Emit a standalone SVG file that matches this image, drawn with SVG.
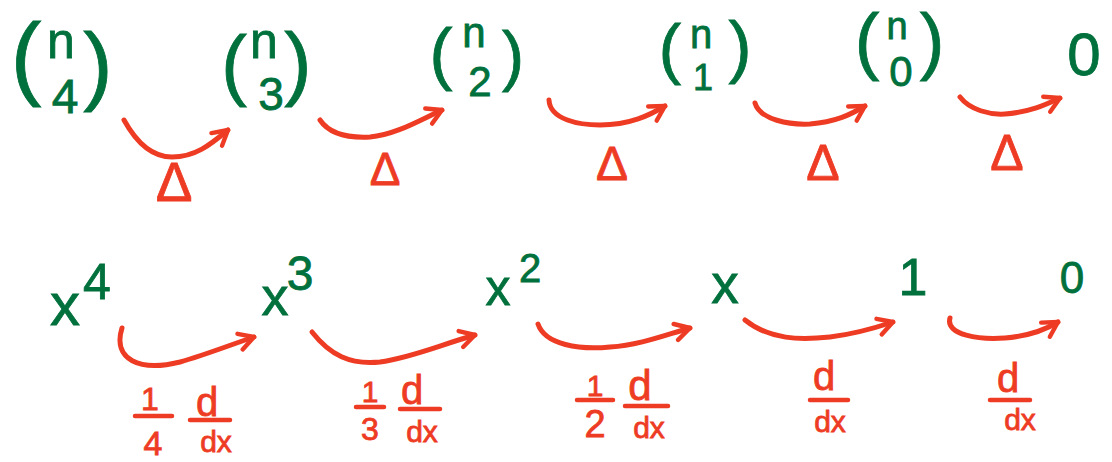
<svg xmlns="http://www.w3.org/2000/svg" width="1112" height="462" viewBox="0 0 1112 462">
<style>
.g{fill:#00703c;stroke:#00703c;stroke-width:0.8;font-family:"Liberation Sans",Arial,sans-serif;text-anchor:middle}
.r{fill:#ee3b24;stroke:#ee3b24;stroke-width:0.8;font-family:"Liberation Sans",Arial,sans-serif;text-anchor:middle}
.arc{fill:none;stroke:#ee3b24;stroke-width:5;stroke-linecap:round;marker-end:url(#head)}
.bar{stroke:#ee3b24;stroke-width:4.5;stroke-linecap:round}
</style>
<defs>
<marker id="head" viewBox="0 0 12 12" refX="10" refY="6" markerWidth="22" markerHeight="22" markerUnits="userSpaceOnUse" orient="auto">
<path d="M2,1.5 L10,6 L2,10.5" fill="none" stroke="#ee3b24" stroke-width="2.4" stroke-linecap="round" stroke-linejoin="round"/>
</marker>
</defs>
<rect width="1112" height="462" fill="#ffffff"/>

<!-- top row nodes -->
<g id="binom-n-4">
<text class="g" x="26" y="88" font-size="92">(</text>
<text class="g" x="61" y="58" font-size="50">n</text>
<text class="g" x="65" y="113" font-size="48">4</text>
<text class="g" x="98" y="94" font-size="88">)</text>
</g>
<g id="binom-n-3">
<text class="g" x="234" y="91" font-size="77">(</text>
<text class="g" x="264" y="58" font-size="50">n</text>
<text class="g" x="271" y="110" font-size="46">3</text>
<text class="g" x="298" y="90" font-size="82">)</text>
</g>
<g id="binom-n-2">
<text class="g" x="441" y="77" font-size="69">(</text>
<text class="g" x="474" y="47" font-size="42">n</text>
<text class="g" x="480" y="96" font-size="42">2</text>
<text class="g" x="513" y="78" font-size="66">)</text>
</g>
<g id="binom-n-1">
<text class="g" x="670" y="71" font-size="67">(</text>
<text class="g" x="701" y="48" font-size="40">n</text>
<text class="g" x="703" y="90" font-size="36">1</text>
<text class="g" x="740" y="70" font-size="69">)</text>
</g>
<g id="binom-n-0">
<text class="g" x="867" y="66" font-size="74">(</text>
<text class="g" x="897" y="39" font-size="38">n</text>
<text class="g" x="901" y="86" font-size="42">0</text>
<text class="g" x="932" y="66" font-size="74">)</text>
</g>
<g id="zero-top">
<text class="g" x="1084" y="75" font-size="60">0</text>
</g>

<!-- bottom row nodes -->
<g id="x4">
<text class="g" x="65" y="325" font-size="60">x</text>
<text class="g" x="97" y="299" font-size="50">4</text>
</g>
<g id="x3">
<text class="g" x="275" y="315" font-size="54">x</text>
<text class="g" x="300" y="290" font-size="48">3</text>
</g>
<g id="x2">
<text class="g" x="498" y="305" font-size="50">x</text>
<text class="g" x="530" y="282" font-size="40">2</text>
</g>
<g id="x1">
<text class="g" x="725" y="303" font-size="55">x</text>
</g>
<g id="one">
<text class="g" x="913" y="295" font-size="52">1</text>
</g>
<g id="zero-bottom">
<text class="g" x="1072" y="293" font-size="44">0</text>
</g>

<!-- connectors -->
<g id="connectors">
<g id="delta-arrows">
<path class="arc" d="M124,120 C135,140 150,157 172,157 C195,157 210,145 228,130"/>
<text class="r" x="174" y="201" font-size="55">Δ</text>
<path class="arc" d="M320,120 C330,135 350,138 370,137 C395,135 420,120 442,110"/>
<text class="r" x="385" y="185" font-size="46">Δ</text>
<path class="arc" d="M549,100 C550,120 580,125 600,125 C630,125 650,115 665,106"/>
<text class="r" x="612" y="180" font-size="48">Δ</text>
<path class="arc" d="M755,103 C760,120 790,125 810,124 C835,122 850,115 865,106"/>
<text class="r" x="823" y="180" font-size="50">Δ</text>
<path class="arc" d="M960,97 C970,110 990,115 1005,114 C1030,112 1045,105 1060,98"/>
<text class="r" x="1007" y="170" font-size="50">Δ</text>
</g>
<g id="derivative-arrows">
<path class="arc" d="M122,328 C112,360 140,372 180,362 C205,355 230,345 254,337"/>
<text class="r" x="150" y="410" font-size="32">1</text>
<line class="bar" x1="135" y1="416" x2="172" y2="416"/>
<text class="r" x="153" y="455" font-size="34">4</text>
<text class="r" x="207" y="416" font-size="40">d</text>
<line class="bar" x1="190" y1="420" x2="230" y2="420"/>
<text class="r" x="216" y="452" font-size="30">dx</text>

<path class="arc" d="M312,332 C330,355 350,365 380,362 C410,358 440,345 475,335"/>
<text class="r" x="370" y="402" font-size="30">1</text>
<line class="bar" x1="356" y1="407" x2="384" y2="407"/>
<text class="r" x="370" y="440" font-size="32">3</text>
<text class="r" x="412" y="404" font-size="40">d</text>
<line class="bar" x1="400" y1="409" x2="440" y2="409"/>
<text class="r" x="422" y="442" font-size="30">dx</text>

<path class="arc" d="M538,324 C545,345 580,350 610,347 C640,345 665,335 690,328"/>
<text class="r" x="595" y="396" font-size="30">1</text>
<line class="bar" x1="577" y1="400" x2="613" y2="400"/>
<text class="r" x="595" y="437" font-size="38">2</text>
<text class="r" x="640" y="400" font-size="42">d</text>
<line class="bar" x1="625" y1="406" x2="668" y2="406"/>
<text class="r" x="649" y="438" font-size="30">dx</text>

<path class="arc" d="M745,320 C770,340 800,340 830,337 C855,334 875,328 893,322"/>
<text class="r" x="824" y="390" font-size="40">d</text>
<line class="bar" x1="810" y1="400" x2="848" y2="400"/>
<text class="r" x="830" y="432" font-size="30">dx</text>

<path class="arc" d="M950,318 C945,335 980,340 1005,338 C1030,336 1045,330 1058,322"/>
<text class="r" x="1008" y="392" font-size="40">d</text>
<line class="bar" x1="990" y1="400" x2="1030" y2="400"/>
<text class="r" x="1020" y="430" font-size="30">dx</text>
</g>
</g>
</svg>
